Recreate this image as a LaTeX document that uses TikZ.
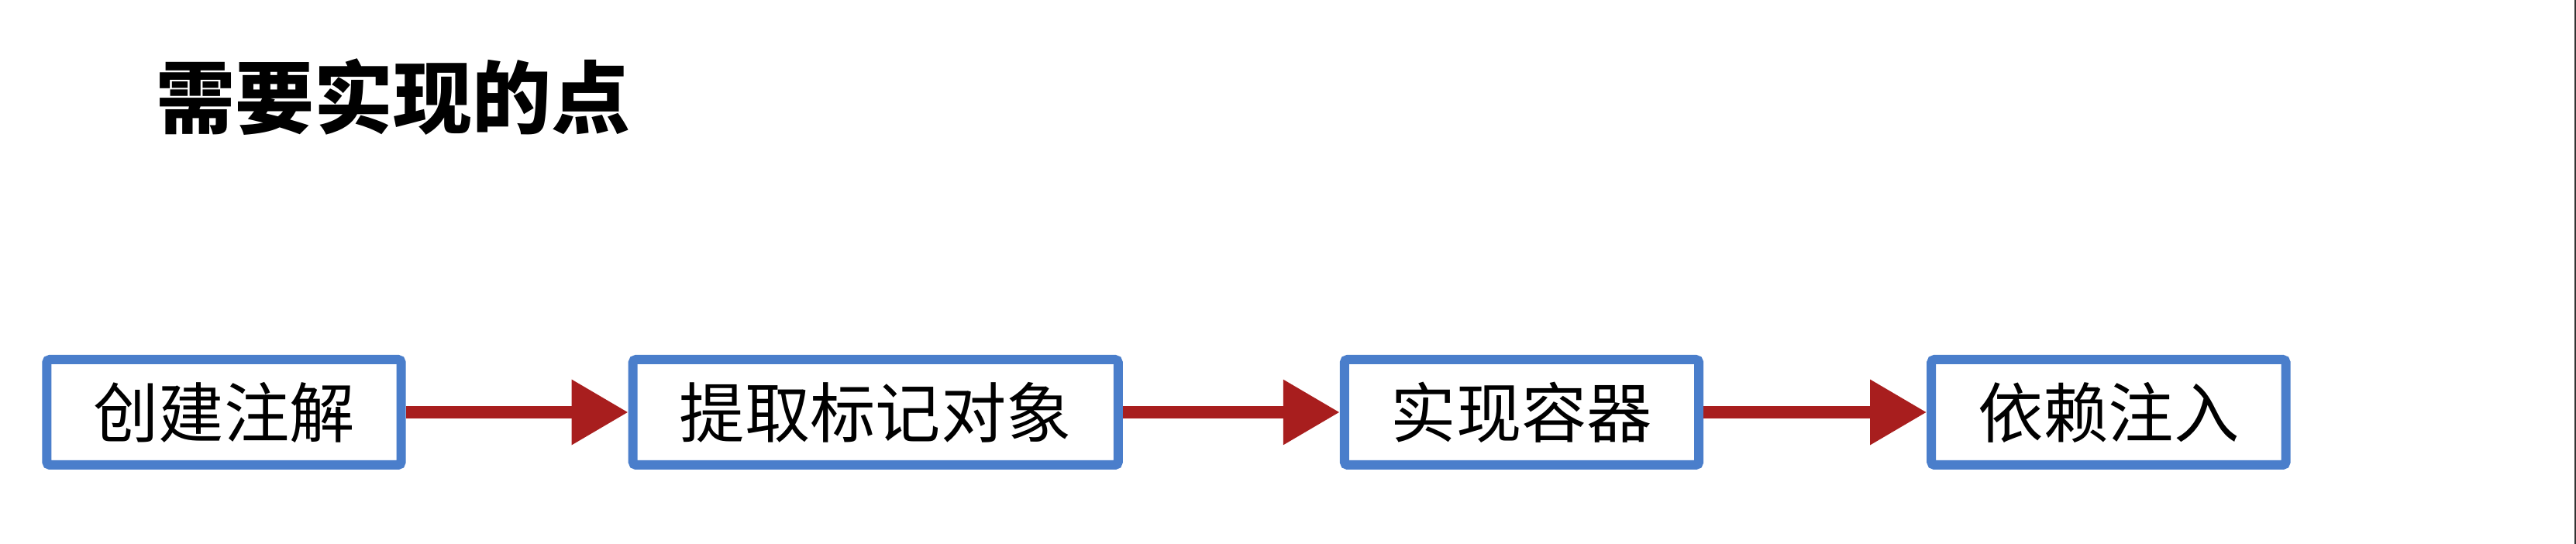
\documentclass[tikz,border=0pt]{standalone}
\usepackage{fontspec}
\newfontfamily\cjk{Noto Sans CJK SC}
\usetikzlibrary{positioning, arrows.meta}
\definecolor{boxblue}{HTML}{4A7ECB}
\definecolor{arrowred}{HTML}{A81E1E}

\begin{document}
\begin{tikzpicture}[
    stepbox/.style={rectangle,draw=boxblue,line width=0.12cm,fill=white,rounded corners=0.04cm,minimum height=1.36cm,inner xsep=0.6cm,font=\cjk\fontsize{24}{28}\selectfont},
    flow/.style={draw=arrowred,line width=0.16cm,-{Triangle[length=0.73cm,width=0.8cm]}}
]
    % margini e bordo destro
    \useasboundingbox (0,0) rectangle (33.24,7.02);
    \fill[black!80] (33.22,0) rectangle (33.24,7.02);

    % Titolo
    \node[anchor=west,inner sep=0pt,font=\cjk\bfseries\fontsize{29}{34}\selectfont] (title) at (2.01,5.77) {需要实现的点};

    % Passi
    \node[stepbox] (annot) at (2.89,1.70) {创建注解};
    \node[stepbox,right=2.87cm of annot] (extract) {提取标记对象};
    \node[stepbox,right=2.8cm of extract] (container) {实现容器};
    \node[stepbox,right=2.88cm of container] (inject) {依赖注入};

    % Frecce
    \draw[flow] (annot) -- (extract);
    \draw[flow] (extract) -- (container);
    \draw[flow] (container) -- (inject);
\end{tikzpicture}
\end{document}
